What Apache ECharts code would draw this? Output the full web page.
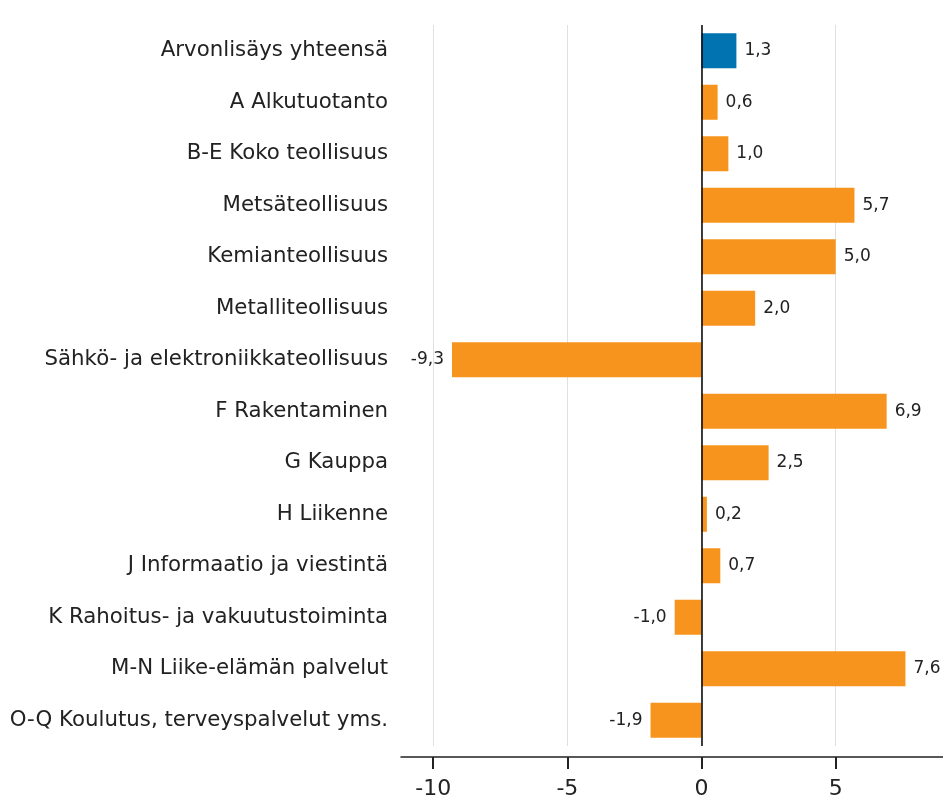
<!DOCTYPE html>
<html>
<head>
<meta charset="utf-8">
<script src="https://cdn.jsdelivr.net/npm/echarts@6/dist/echarts.min.js"></script>
<style>
html,body{margin:0;padding:0;background:#fff;}
#main{width:943px;height:801px;}
</style>
</head>
<body>
<div id="main"></div>
<script>
var categories = ['Arvonlisäys yhteensä','A Alkutuotanto','B-E Koko teollisuus','Metsäteollisuus','Kemianteollisuus','Metalliteollisuus','Sähkö- ja elektroniikkateollisuus','F Rakentaminen','G Kauppa','H Liikenne','J Informaatio ja viestintä','K Rahoitus- ja vakuutustoiminta','M-N Liike-elämän palvelut','O-Q Koulutus, terveyspalvelut yms.']
var values = [1.3,0.6,1.0,5.7,5.0,2.0,-9.3,6.9,2.5,0.2,0.7,-1.0,7.6,-1.9]
var tickValues = [-10,-5,0,5]

var xMin = -11.2, xMax = 9
var W = 943, gridLeft = 401, gridRight = 0
// second grid only carries the tick marks + labels, lined up with the value scale
var plotW = W - gridLeft - gridRight
var tLeft = gridLeft + (tickValues[0] - xMin) / (xMax - xMin) * plotW
var tRight = W - (gridLeft + (tickValues[tickValues.length-1] - xMin) / (xMax - xMin) * plotW)

var myChart = echarts.init(document.getElementById('main'))

var barData = []
for(var i=0;i<values.length;i++){
	barData.push({
		value: values[i],
		itemStyle: {color: i==0 ? '#0073b0' : '#f7941d'},
		label: {position: values[i] < 0 ? 'left' : 'right'}
	})
}

var option = {
	backgroundColor: '#fff',
	animation: false,
	grid: [
		{left: gridLeft, right: gridRight, top: 25, bottom: 55, containLabel: false},
		{left: tLeft, right: tRight, top: 25, bottom: 44, containLabel: false}
	],
	xAxis: [{
		type: 'value',
		gridIndex: 0,
		min: xMin,
		max: xMax,
		offset: 11,
		axisLine: {show: true, lineStyle: {color: '#222', width: 1.5}},
		axisTick: {show: false, customValues: tickValues},
		axisLabel: {show: false, customValues: tickValues},
		splitLine: {show: true, lineStyle: {color: '#e0e0e0', width: 1}}
	}, {
		type: 'category',
		gridIndex: 1,
		data: tickValues,
		boundaryGap: false,
		axisLine: {show: false},
		axisTick: {show: true, length: 12, lineStyle: {color: '#222', width: 2}},
		axisLabel: {color: '#222', fontSize: 22, fontFamily: 'DejaVu Sans', margin: 21},
		splitLine: {show: false}
	}],
	yAxis: [{
		type: 'category',
		gridIndex: 0,
		inverse: true,
		data: categories,
		axisLine: {show: false},
		axisTick: {show: false},
		axisLabel: {color: '#222', fontSize: 21.3, fontFamily: 'DejaVu Sans', margin: 13}
	}, {
		type: 'value',
		gridIndex: 1,
		show: false
	}],
	series: [{
		type: 'bar',
		data: barData,
		barCategoryGap: '32%',
		label: {
			show: true,
			color: '#222',
			fontSize: 17,
			fontFamily: 'DejaVu Sans',
			distance: 8,
			formatter: function(p){ return p.value.toFixed(1).replace('.', ',') }
		},
		markLine: {
			silent: true,
			symbol: 'none',
			label: {show: false},
			lineStyle: {color: '#000', width: 1.5, type: 'solid'},
			data: [{xAxis: 0}]
		}
	}]
}
myChart.setOption(option)
</script>
</body>
</html>
